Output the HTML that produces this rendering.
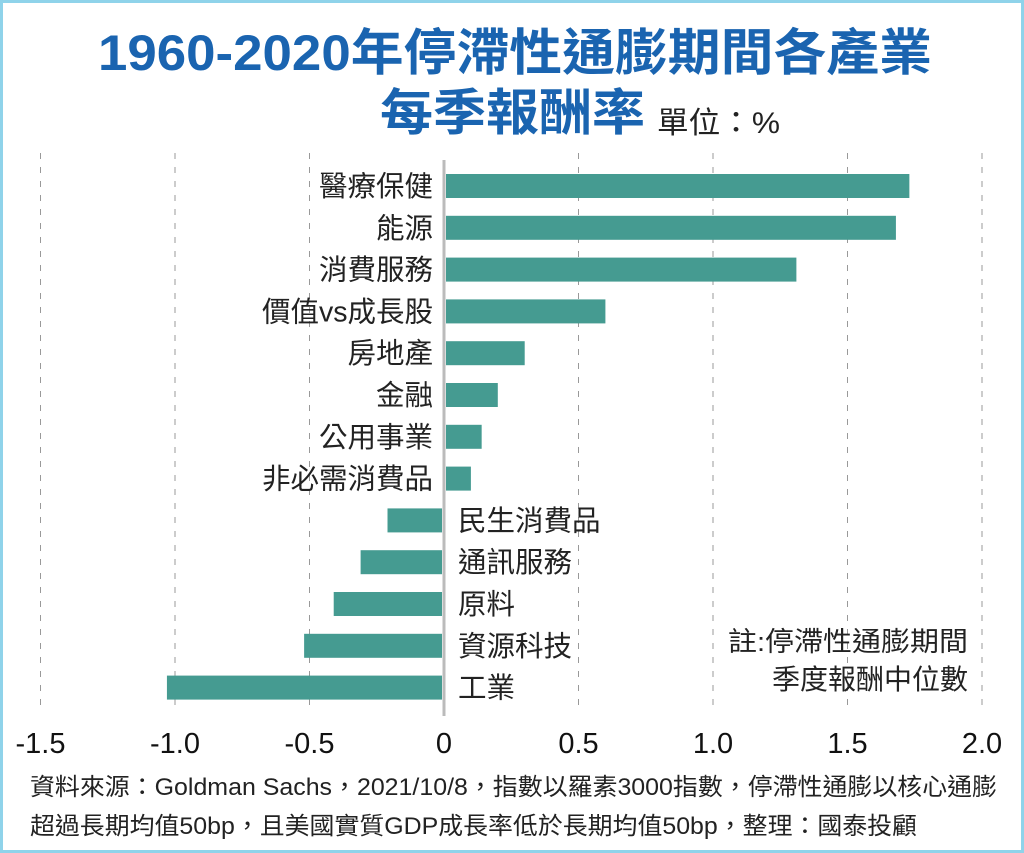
<!DOCTYPE html>
<html><head><meta charset="utf-8"><style>
html,body{margin:0;padding:0;background:#fff}
svg{display:block}
text{font-family:"Liberation Sans","Noto Sans CJK TC",sans-serif}
</style></head><body>
<svg id="chart" width="1024" height="853" viewBox="0 0 1024 853">
<rect x="1.5" y="1.5" width="1021" height="850" fill="#fff" stroke="#8fd3ea" stroke-width="3"/>
<text x="98" y="70" textLength="834" lengthAdjust="spacingAndGlyphs" font-size="50" font-weight="bold" fill="#1a64b0">1960-2020年停滯性通膨期間各產業</text>
<text x="380" y="130" textLength="265" lengthAdjust="spacingAndGlyphs" font-size="50" font-weight="bold" fill="#1a64b0">每季報酬率</text>
<text x="657" y="133" textLength="123" lengthAdjust="spacingAndGlyphs" font-size="30" fill="#222">單位：%</text>
<g id="grid"></g>
<g id="bars"></g>
<g id="labels"></g>
<g id="ticks"></g>
<text x="728" y="651" textLength="240" lengthAdjust="spacingAndGlyphs" font-size="27" fill="#222">註:停滯性通膨期間</text>
<text x="968" y="689" text-anchor="end" font-size="28" fill="#222">季度報酬中位數</text>
<text x="30" y="795" textLength="967" lengthAdjust="spacingAndGlyphs" font-size="24" fill="#222">資料來源：Goldman Sachs，2021/10/8，指數以羅素3000指數，停滯性通膨以核心通膨</text>
<text x="30" y="834" textLength="887" lengthAdjust="spacingAndGlyphs" font-size="24" fill="#222">超過長期均值50bp，且美國實質GDP成長率低於長期均值50bp，整理：國泰投顧</text>
</svg>
<script>
const categories=["醫療保健","能源","消費服務","價值vs成長股","房地產","金融","公用事業","非必需消費品","民生消費品","通訊服務","原料","資源科技","工業"];
const values=[1.73,1.68,1.31,0.60,0.30,0.20,0.14,0.10,-0.21,-0.31,-0.41,-0.52,-1.03];
const tickValues=[-1.5,-1.0,-0.5,0,0.5,1.0,1.5,2.0];
const tickLabels=["-1.5","-1.0","-0.5","0","0.5","1.0","1.5","2.0"];
const NS="http://www.w3.org/2000/svg";
const x=v=>444+v*269;
const y=i=>186+i*41.8;
function mk(t,a,p){const e=document.createElementNS(NS,t);for(const k in a)e.setAttribute(k,a[k]);p.appendChild(e);return e;}
const grid=document.getElementById('grid'),bars=document.getElementById('bars'),labels=document.getElementById('labels'),ticks=document.getElementById('ticks');
tickValues.forEach((v,i)=>{
 if(v!==0){const l=mk('line',{x1:x(v),x2:x(v),y1:153,y2:712,stroke:'#999','stroke-width':1,'stroke-dasharray':'6,8'},grid);
 
 }
 const t=mk('text',{x:x(v),y:753,'text-anchor':'middle','font-size':29,fill:'#111'},ticks);t.textContent=tickLabels[i];
 
 
});
const z=mk('line',{x1:x(0),x2:x(0),y1:160,y2:716,stroke:'#bbb','stroke-width':3},grid);


categories.forEach((c,i)=>{
 const v=values[i];const x0=x(0)+(v>=0?2:-2);const x1=x(v);
 const r=mk('rect',{x:Math.min(x0,x1),y:y(i)-12,width:Math.abs(x1-x0),height:24,fill:'#459b91'},bars);
 
 
 const t=mk('text',{x:v>=0?x(0)-11:x(0)+14,y:y(i)+10,'text-anchor':v>=0?'end':'start','font-size':28.5,fill:'#222'},labels);
 t.textContent=c;
 
 
});
</script>
</body></html>
